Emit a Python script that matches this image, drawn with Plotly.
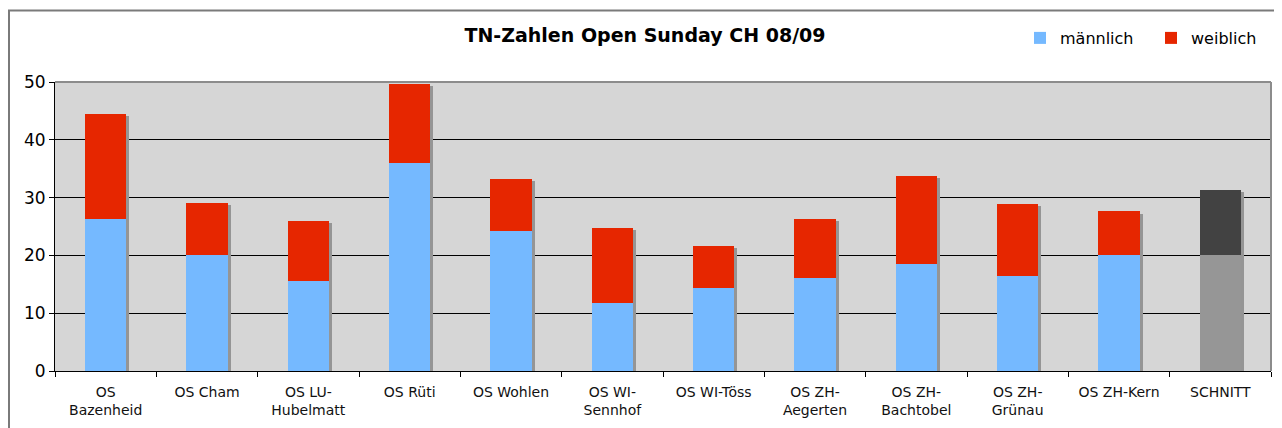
import plotly.graph_objects as go

categories = ["OS<br>Bazenheid", "OS Cham", "OS LU-<br>Hubelmatt", "OS Rüti", "OS Wohlen",
              "OS WI-<br>Sennhof", "OS WI-Töss", "OS ZH-<br>Aegerten", "OS ZH-<br>Bachtobel",
              "OS ZH-<br>Grünau", "OS ZH-Kern", "SCHNITT"]
maennlich = [26.3, 20.0, 15.6, 36.0, 24.3, 11.8, 14.4, 16.1, 18.5, 16.5, 20.0, 20.0]
weiblich = [18.1, 9.1, 10.4, 13.7, 9.0, 13.0, 7.3, 10.2, 15.3, 12.4, 7.6, 11.4]
y_ticks = [0, 10, 20, 30, 40, 50]

male_colors = ["#75B9FF"] * 11 + ["#969696"]
female_colors = ["#E62600"] * 11 + ["#424242"]

totals = [m + w for m, w in zip(maennlich, weiblich)]
W = 0.405
OFF = -W / 2

FW, FH = 1274, 420
L, R, T, B = 47, 11, 74, 57
PW, PH = FW - L - R, FH - T - B

fig = go.Figure()
fig.add_trace(go.Bar(x=categories, y=[t - 0.35 for t in totals], base=0, width=W, offset=OFF + 0.03,
                     marker=dict(color="#959595", line=dict(width=0)), showlegend=False, hoverinfo="skip"))
fig.add_trace(go.Bar(x=categories, y=maennlich, base=0, width=W, offset=OFF, name="männlich",
                     marker=dict(color=male_colors, line=dict(width=0))))
fig.add_trace(go.Bar(x=categories, y=weiblich, base=maennlich, width=W, offset=OFF, name="weiblich",
                     marker=dict(color=female_colors, line=dict(width=0))))

fig.update_layout(
    barmode="overlay",
    width=FW, height=FH,
    margin=dict(l=L, r=R, t=T, b=B, autoexpand=False),
    paper_bgcolor="white",
    plot_bgcolor="#D6D6D6",
    font=dict(family="DejaVu Sans, Verdana, sans-serif", color="#000000", size=14),
    title=dict(text="<b>TN-Zahlen Open Sunday CH 08/09</b>", x=637 / FW, xanchor="center",
               y=1 - 27 / FH, yanchor="middle", font=dict(size=19)),
    legend=dict(orientation="h", x=(1012 - L) / PW, xanchor="left", y=(FH - B - 30) / PH,
                yanchor="middle", font=dict(size=16), bgcolor="rgba(0,0,0,0)",
                itemwidth=30, entrywidth=86, entrywidthmode="pixels", traceorder="normal"),
    showlegend=True,
    bargap=0,
)
fig.update_xaxes(
    type="category", tickson="boundaries", ticks="outside", ticklen=5, tickcolor="#000",
    showline=True, linecolor="#000", linewidth=1, mirror=False, showgrid=False,
    tickfont=dict(size=14, color="#111"), range=[-0.5, 11.5], ticklabelstandoff=8,
)
fig.update_yaxes(
    range=[0, 50], tickvals=y_ticks, ticks="outside", ticklen=5, tickcolor="#000",
    showline=True, linecolor="#000", linewidth=1, showgrid=True, gridcolor="#000", gridwidth=1,
    tickfont=dict(size=17), zeroline=False,
)
# plot-area top and right border (grey)
fig.add_shape(type="line", xref="paper", yref="paper", x0=0, x1=1, y0=1, y1=1,
              line=dict(color="#8C8C8C", width=2), layer="above")
fig.add_shape(type="line", xref="paper", yref="paper", x0=1, x1=1, y0=0, y1=1,
              line=dict(color="#8C8C8C", width=2), layer="above")
# chart-area frame
fig.add_shape(type="rect", xref="paper", yref="paper",
              x0=(1 - L) / PW, x1=(FW + 20 - L) / PW, y0=-(B + 30) / PH, y1=(FH - B - 2.5) / PH,
              line=dict(color="#7A7A7A", width=2), fillcolor="rgba(0,0,0,0)", layer="below")

fig.write_html("out.html")
